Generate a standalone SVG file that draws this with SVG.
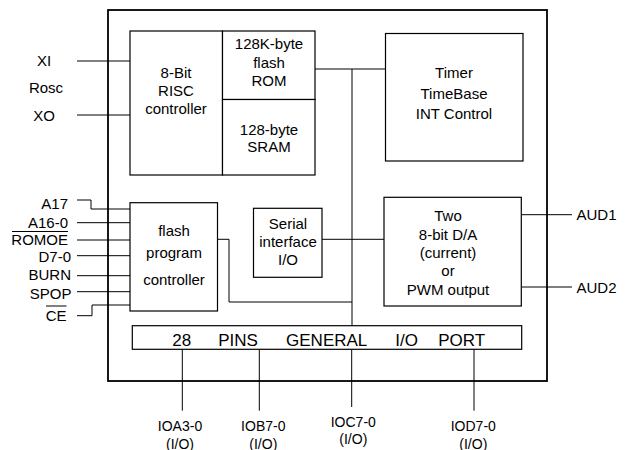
<svg xmlns="http://www.w3.org/2000/svg" width="629" height="450" viewBox="0 0 629 450">
<style>
text{font-family:"Liberation Sans",Arial,sans-serif;font-size:15px;fill:#000}
.c{text-anchor:middle}
.e{text-anchor:end}
.p{font-size:17px}
.s{font-size:14px}
.box{fill:#fff;stroke:#000;stroke-width:1.2}
.outer{fill:#fff;stroke:#000;stroke-width:1.8}
.w{fill:none;stroke:#000;stroke-width:1}
</style>
<rect x="0" y="0" width="629" height="450" fill="#fff"/>
<g id="chip"><rect class="outer" x="108" y="10" width="439" height="371"/></g>
<g id="connectors">
<path class="w" d="M77 61H130M77 115H130"/>
<path class="w" d="M77 200H91V209H130M77 222.7H130M77 240H130M77 255.7H130M77 275.7H130M77 291.7H130M77 315.7H92V305H130"/>
<path class="w" d="M315 69H385.5M352 69V326"/>
<path class="w" d="M217.5 239.3H229V302H352"/>
<path class="w" d="M322 239.3H384"/>
<path class="w" d="M521.3 214.7H572M521.3 287H572"/>
<path class="w" d="M182.3 349.3V410.7M259.3 349.3V410.7M351.7 349.3V407M474 349.3V410.7"/>
</g>
<g id="risc">
<rect class="box" x="130" y="31" width="92.5" height="144"/>
<text class="c" x="176" y="78">8-Bit</text>
<text class="c" x="176" y="96">RISC</text>
<text class="c" x="176" y="114">controller</text>
</g>
<g id="rom">
<rect class="box" x="222.5" y="31" width="92.5" height="68.5"/>
<text class="c" x="269" y="49">128K-byte</text>
<text class="c" x="269" y="67.5">flash</text>
<text class="c" x="269" y="86">ROM</text>
</g>
<g id="sram">
<rect class="box" x="222.5" y="99.5" width="92.5" height="75.5"/>
<text class="c" x="269" y="134.5">128-byte</text>
<text class="c" x="269" y="152">SRAM</text>
</g>
<g id="timer">
<rect class="box" x="385.5" y="33.5" width="137.5" height="127.5"/>
<text class="c" x="454" y="78">Timer</text>
<text class="c" x="454" y="99">TimeBase</text>
<text class="c" x="454" y="119">INT Control</text>
</g>
<g id="flashctl">
<rect class="box" x="130" y="202.7" width="87.5" height="108.3"/>
<text class="c" x="174" y="235.5">flash</text>
<text class="c" x="174" y="257.5">program</text>
<text class="c" x="174" y="284.5">controller</text>
</g>
<g id="serial">
<rect class="box" x="253.5" y="208.3" width="68.5" height="69"/>
<text class="c" x="288" y="228.5">Serial</text>
<text class="c" x="288" y="246.5">interface</text>
<text class="c" x="288" y="265">I/O</text>
</g>
<g id="da">
<rect class="box" x="384" y="197.3" width="137.3" height="108.7"/>
<text class="c" x="448" y="221">Two</text>
<text class="c" x="448" y="239.5">8-bit D/A</text>
<text class="c" x="448" y="257.5">(current)</text>
<text class="c" x="448" y="276">or</text>
<text class="c" x="448" y="294.5">PWM output</text>
</g>
<g id="ioport">
<rect class="box" x="132.3" y="325.7" width="389.4" height="23.6"/>
<text class="p c" x="181.7" y="346">28</text>
<text class="p c" x="238" y="346">PINS</text>
<text class="p c" x="326.7" y="346">GENERAL</text>
<text class="p c" x="406.7" y="346">I/O</text>
<text class="p c" x="461.7" y="346">PORT</text>
</g>
<g id="pins-left">
<text class="c" x="44" y="66">XI</text>
<text class="c" x="46" y="93">Rosc</text>
<text class="c" x="44" y="121">XO</text>
<text class="e" x="68" y="208.5">A17</text>
<text class="e" x="68" y="227.5">A16-0</text>
<text class="e" x="68" y="245">ROMOE</text>
<path class="w" d="M12 231.5H68"/>
<text class="e" x="71" y="262">D7-0</text>
<text class="e" x="71" y="279.5">BURN</text>
<text class="e" x="71.5" y="298.5">SPOP</text>
<text class="e" x="66.5" y="320.5">CE</text>
<path class="w" d="M46 306H66.5"/>
</g>
<g id="pins-right">
<text x="576.5" y="220">AUD1</text>
<text x="576.5" y="292.5">AUD2</text>
</g>
<g id="pins-bottom">
<text class="s c" x="180" y="431">IOA3-0</text>
<text class="s c" x="180" y="448.5">(I/O)</text>
<text class="s c" x="263.3" y="431">IOB7-0</text>
<text class="s c" x="263.3" y="448.5">(I/O)</text>
<text class="s c" x="353.3" y="427">IOC7-0</text>
<text class="s c" x="353.3" y="443.5">(I/O)</text>
<text class="s c" x="473.3" y="431">IOD7-0</text>
<text class="s c" x="473.3" y="448.5">(I/O)</text>
</g>
</svg>
